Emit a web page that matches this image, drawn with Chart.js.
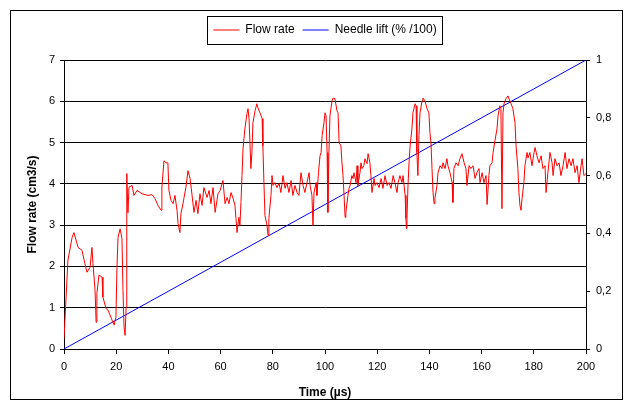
<!DOCTYPE html>
<html>
<head>
<meta charset="utf-8">
<script src="https://cdn.jsdelivr.net/npm/chart.js@4"></script>
<style>
  body { margin: 0; background: #fff; }
  #wrap { width: 629px; height: 410px; }
</style>
</head>
<body>
<div id="wrap"><canvas id="flowChart" width="629" height="410"></canvas></div>
<script>
// flow rate trace (time in µs, flow in cm3/s)
const timeValues = [
    0, 0.8, 1.5, 3.1, 3.8, 5.4, 6.9, 8.0, 8.8, 10.0,
    10.7, 11.1, 11.9, 12.3, 12.6, 13.4, 14.6, 14.9, 16.1, 16.9,
    18.4, 19.2, 19.9, 20.3, 20.7, 21.5, 22.2, 22.6, 23.0, 23.4,
    23.8, 24.0, 24.1, 24.5, 24.9, 26.1, 26.8, 28.0, 29.9, 32.2,
    33.7, 34.9, 36.0, 37.2, 37.5, 38.3, 39.1, 39.8, 40.2, 41.0,
    41.8, 42.5, 43.3, 43.7, 44.4, 44.8, 45.6, 46.0, 46.7, 47.5,
    48.3, 49.0, 49.8, 50.6, 51.3, 52.1, 52.9, 53.6, 54.8, 55.6,
    56.3, 57.1, 57.9, 59.0, 59.8, 60.9, 61.7, 62.5, 63.2, 64.0,
    64.8, 65.5, 65.9, 66.3, 67.0, 67.4, 67.8, 68.2, 68.6, 69.3,
    70.1, 70.5, 70.9, 71.6, 72.0, 72.4, 73.2, 73.9, 74.3, 75.1,
    75.9, 76.2, 76.6, 77.0, 77.8, 78.2, 78.5, 79.3, 79.7, 80.1,
    80.8, 81.6, 82.4, 83.1, 83.9, 84.7, 85.4, 86.2, 87.0, 87.7,
    88.5, 89.3, 90.0, 90.8, 91.6, 92.3, 93.1, 93.9, 94.3, 95.0,
    95.4, 95.8, 96.6, 96.9, 97.5, 98.1, 98.5, 98.9, 99.6, 100.0,
    100.4, 100.8, 101.1, 101.5, 101.9, 102.7, 103.1, 103.8, 104.6, 105.0,
    105.4, 106.1, 106.5, 106.9, 107.3, 107.7, 108.0, 108.8, 109.2, 109.6,
    110.3, 110.7, 111.1, 111.9, 112.3, 112.6, 113.4, 113.8, 114.2, 114.9,
    115.3, 116.1, 116.5, 117.2, 117.6, 118.0, 118.8, 119.2, 119.9, 120.7,
    121.5, 122.2, 123.0, 123.8, 124.5, 125.3, 126.1, 126.8, 127.6, 128.0,
    128.7, 129.5, 129.9, 130.7, 131.0, 131.2, 131.4, 131.8, 132.2, 132.6,
    133.3, 133.7, 134.5, 134.9, 135.2, 135.6, 136.0, 136.4, 137.2, 137.5,
    138.3, 139.1, 139.8, 140.2, 140.6, 141.0, 141.4, 141.8, 142.1, 142.9,
    143.3, 144.1, 144.8, 145.2, 146.0, 146.7, 147.1, 147.9, 148.7, 149.0,
    149.4, 150.2, 151.0, 151.7, 152.5, 153.3, 154.0, 154.4, 155.2, 155.9,
    156.7, 157.5, 158.2, 159.0, 159.4, 160.2, 160.9, 161.7, 162.1, 162.8,
    163.2, 164.0, 164.4, 165.1, 165.9, 166.3, 167.0, 167.4, 167.8, 168.2,
    168.6, 169.3, 170.1, 170.5, 171.3, 172.0, 172.8, 173.2, 173.9, 174.3,
    174.7, 175.1, 175.5, 176.2, 176.6, 177.4, 177.8, 178.5, 179.3, 180.1,
    180.5, 181.2, 182.0, 182.8, 183.5, 184.3, 184.7, 185.4, 186.2, 187.0,
    187.4, 188.1, 188.9, 189.7, 190.4, 191.2, 192.0, 192.7, 193.5, 194.3,
    195.0, 195.8, 196.6, 197.3, 198.1, 198.5, 199.2, 200.0
];

const flowValues = [
    0.25, 1.25, 2.15, 2.7, 2.82, 2.46, 2.39, 2.07, 1.86, 1.98,
    2.46, 2.07, 1.42, 0.65, 1.35, 1.79, 1.74, 1.26, 0.98, 0.94,
    0.7, 0.58, 0.77, 1.98, 2.7, 2.91, 2.68, 1.42, 0.53, 0.33,
    1.01, 2.39, 4.25, 3.3, 3.92, 3.96, 3.72, 3.84, 3.76, 3.72,
    3.74, 3.64, 3.48, 3.36, 3.91, 4.56, 4.51, 4.51, 3.84, 3.6,
    3.52, 3.72, 3.36, 3.04, 2.82, 3.28, 3.52, 3.67, 3.91, 4.32,
    4.13, 3.76, 3.31, 3.6, 3.28, 3.76, 3.48, 3.91, 3.67, 3.84,
    3.52, 3.91, 3.31, 3.76, 3.84, 4.08, 3.52, 3.67, 3.52, 3.79,
    3.64, 3.48, 3.16, 2.82, 3.19, 2.99, 3.55, 4.2, 4.85, 5.33,
    5.7, 5.82, 5.58, 4.37, 4.76, 5.48, 5.77, 5.94, 5.84, 5.72,
    5.58, 4.92, 4.03, 3.23, 2.99, 2.75, 3.16, 3.72, 4.2, 3.96,
    4.03, 3.91, 4.01, 3.79, 4.2, 3.89, 4.03, 3.79, 4.08, 3.72,
    3.96, 3.79, 3.72, 4.27, 3.96, 3.79, 4.03, 4.27, 3.96, 3.72,
    2.99, 3.79, 4.03, 3.72, 4.27, 4.68, 4.76, 5.17, 5.48, 5.72,
    5.65, 4.76, 3.31, 4.76, 5.65, 6.01, 6.08, 6.06, 5.77, 5.72,
    5.0, 4.92, 4.51, 4.2, 3.72, 3.19, 3.31, 3.72, 3.89, 3.96,
    4.2, 4.13, 4.27, 4.03, 4.44, 3.96, 4.27, 4.51, 4.37, 4.44,
    4.61, 4.49, 4.73, 4.51, 4.2, 3.79, 4.13, 3.96, 4.03, 3.91,
    4.13, 3.89, 4.2, 3.96, 4.03, 3.89, 4.2, 4.03, 3.79, 4.03,
    4.2, 4.03, 4.2, 3.72, 3.16, 2.92, 3.16, 3.96, 4.51, 4.92,
    5.33, 5.72, 5.94, 5.89, 4.76, 4.2, 5.17, 5.72, 6.01, 6.08,
    6.01, 5.82, 5.72, 5.24, 5.0, 4.37, 3.79, 3.52, 3.64, 3.96,
    4.27, 4.44, 4.37, 4.51, 4.37, 4.61, 4.44, 4.27, 4.03, 3.55,
    4.37, 4.51, 4.44, 4.61, 4.73, 4.51, 4.37, 3.96, 4.44, 4.37,
    4.44, 4.13, 4.27, 4.37, 4.03, 4.27, 4.03, 4.2, 3.5, 4.2,
    4.44, 4.51, 4.76, 5.04, 5.33, 5.65, 5.89, 5.82, 3.4, 5.72,
    5.94, 6.06, 6.13, 6.06, 5.94, 5.82, 5.48, 4.92, 4.37, 3.79,
    3.48, 3.36, 3.64, 4.03, 4.44, 4.76, 4.63, 4.76, 4.44, 4.76,
    4.88, 4.68, 4.51, 4.68, 4.37, 4.44, 3.79, 4.27, 4.76, 4.51,
    4.2, 4.61, 4.44, 4.51, 4.2, 4.44, 4.76, 4.37, 4.61, 4.44,
    4.61, 4.27, 4.44, 4.03, 4.44, 4.61, 4.2, 4.25
];

// needle lift is a straight ramp
const liftTimes = [0, 200];
const liftValues = [0, 1];

const liftTickLabels = ['0', '0,2', '0,4', '0,6', '0,8', '1'];

const fontFamily = 'Liberation Sans, Arial, sans-serif';
const tickFont = { family: fontFamily, size: 11 };
const legendFont = { family: fontFamily, size: 12 };
const titleFont = { family: fontFamily, size: 12, weight: 'bold' };

// white background, outer frame, box round the legend and some room under it
const framePlugin = {
    id: 'framePlugin',
    beforeInit(chart) {
        const fit = chart.legend.fit;
        chart.legend.fit = function () {
            fit.call(this);
            this.height += 14;
        };
    },
    afterLayout(chart) {
        // centre the legend over the plot area, not the whole canvas
        const shift = (chart.chartArea.left + chart.chartArea.right) / 2 - (chart.legend.left + chart.legend.right) / 2;
        chart.legend.left += shift;
        chart.legend.right += shift;
    },
    beforeDraw(chart) {
        const ctx = chart.ctx;
        ctx.save();
        ctx.fillStyle = '#fff';
        ctx.fillRect(0, 0, chart.width, chart.height);
        ctx.restore();
    },
    afterDraw(chart) {
        const ctx = chart.ctx;
        ctx.save();
        ctx.strokeStyle = '#000';
        ctx.lineWidth = 1;
        ctx.strokeRect(10.5, 10.5, 612, 389);
        const boxes = chart.legend.legendHitBoxes;
        if (boxes && boxes.length) {
            const l = Math.min(...boxes.map(b => b.left)) - 6;
            const r = Math.max(...boxes.map(b => b.left + b.width)) + 6;
            const t = boxes[0].top - 8;
            const h = boxes[0].height + 16;
            ctx.strokeRect(Math.round(l) + 0.5, Math.round(t) + 0.5, Math.round(r - l), Math.round(h));
        }
        ctx.restore();
    }
};

const ctx = document.getElementById('flowChart').getContext('2d');
const chart = new Chart(ctx, {
    type: 'line',
    data: {
        datasets: [
            {
                label: 'Flow rate',
                data: timeValues.map((t, i) => ({ x: t, y: flowValues[i] })),
                borderColor: '#ff0000',
                backgroundColor: '#ff0000',
                borderWidth: 1,
                pointRadius: 0,
                tension: 0,
                fill: false,
                yAxisID: 'y'
            },
            {
                label: 'Needle lift (% /100)',
                data: liftTimes.map((t, i) => ({ x: t, y: liftValues[i] })),
                borderColor: '#0000ff',
                backgroundColor: '#0000ff',
                borderWidth: 1,
                pointRadius: 0,
                tension: 0,
                fill: false,
                yAxisID: 'y1'
            }
        ]
    },
    options: {
        responsive: false,
        animation: false,
        layout: { padding: { left: 12, right: 10, top: 16, bottom: 10 } },
        plugins: {
            legend: {
                position: 'top',
                labels: {
                    font: legendFont,
                    color: '#000',
                    usePointStyle: true,
                    pointStyleWidth: 26,
                    padding: 8,
                    generateLabels: chart => chart.data.datasets.map((ds, i) => ({
                        text: ds.label,
                        strokeStyle: ds.borderColor,
                        fillStyle: ds.borderColor,
                        lineWidth: 1,
                        pointStyle: 'line',
                        hidden: false,
                        datasetIndex: i
                    }))
                }
            },
            tooltip: { enabled: false }
        },
        scales: {
            x: {
                type: 'linear',
                position: 'bottom',
                min: 0,
                max: 200,
                ticks: { stepSize: 20, font: tickFont, color: '#000', padding: 6 },
                grid: { drawOnChartArea: false, drawTicks: true, tickLength: 5, color: '#000' },
                border: { color: '#000' },
                title: { display: true, text: 'Time (µs)', font: titleFont, color: '#000', padding: { top: 4, bottom: 0 } },
                afterFit: scale => { scale.height = 51; }
            },
            y: {
                position: 'left',
                min: 0,
                max: 7,
                ticks: { stepSize: 1, font: tickFont, color: '#000', padding: 5 },
                grid: { color: '#000', tickLength: 4 },
                border: { color: '#000' },
                title: { display: true, text: 'Flow rate (cm3/s)', font: titleFont, color: '#000', padding: { top: 13, bottom: 4 } },
                afterFit: scale => { scale.width = 52; }
            },
            y1: {
                position: 'right',
                min: 0,
                max: 1,
                ticks: {
                    stepSize: 0.2,
                    font: tickFont,
                    color: '#000',
                    padding: 6,
                    callback: (value, index) => liftTickLabels[index]
                },
                grid: { drawOnChartArea: false, tickLength: 4, color: '#000' },
                border: { color: '#000' },
                afterFit: scale => { scale.width = 33; }
            }
        }
    },
    plugins: [framePlugin]
});
</script>
</body>
</html>
